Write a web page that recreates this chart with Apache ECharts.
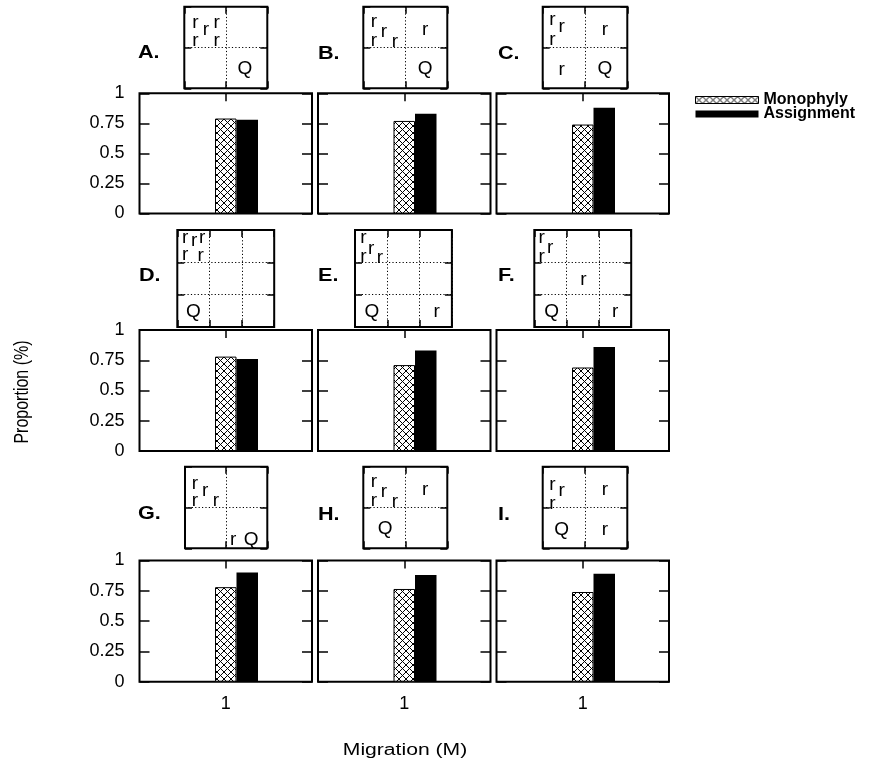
<!DOCTYPE html>
<html><head><meta charset="utf-8">
<script src="https://cdn.jsdelivr.net/npm/echarts@6/dist/echarts.min.js"></script>
<style>html,body{margin:0;padding:0;background:#fff}#c{width:890px;height:771px}</style>
</head><body><div id="c"></div>
<script>
// ---------------- data ----------------
const panelNames = ['A.', 'B.', 'C.', 'D.', 'E.', 'F.', 'G.', 'H.', 'I.'];
const categories = ['1'];
const seriesNames = ['Monophyly', 'Assignment'];
const monophyly  = [0.79, 0.77, 0.74, 0.78, 0.71, 0.69, 0.78, 0.765, 0.74];
const assignment = [0.78, 0.83, 0.88, 0.76, 0.83, 0.86, 0.90, 0.88, 0.89];
const yTickMin = 0, yTickMax = 1, yTickStep = 0.25;
const xTitle = 'Migration (M)';
const yTitle = 'Proportion (%)';
// inset diagrams: grid size (cells per side) and letters [x, y, label] in cell units
const insetCells = [2, 2, 2, 3, 3, 3, 2, 2, 2];
const insetA = [[0.27,1.61,'r'],[0.52,1.43,'r'],[0.78,1.61,'r'],[0.27,1.17,'r'],[0.78,1.17,'r'],[1.46,0.47,'Q']];
const insetB = [[0.25,1.63,'r'],[0.25,1.17,'r'],[0.49,1.39,'r'],[0.75,1.14,'r'],[1.47,1.43,'r'],[1.47,0.49,'Q']];
const insetC = [[0.23,1.67,'r'],[0.45,1.51,'r'],[0.23,1.20,'r'],[1.47,1.43,'r'],[0.45,0.45,'r'],[1.47,0.47,'Q']];
const insetD = [[0.24,2.75,'r'],[0.52,2.66,'r'],[0.77,2.75,'r'],[0.24,2.22,'r'],[0.72,2.19,'r'],[0.50,0.47,'Q']];
const insetE = [[0.26,2.75,'r'],[0.26,2.18,'r'],[0.50,2.41,'r'],[0.77,2.13,'r'],[0.52,0.46,'Q'],[2.53,0.46,'r']];
const insetF = [[0.23,2.75,'r'],[0.49,2.46,'r'],[0.23,2.18,'r'],[1.52,1.46,'r'],[0.54,0.46,'Q'],[2.50,0.46,'r']];
const insetG = [[0.24,1.59,'r'],[0.24,1.17,'r'],[0.49,1.41,'r'],[0.75,1.17,'r'],[1.17,0.22,'r'],[1.61,0.22,'Q']];
const insetH = [[0.25,1.63,'r'],[0.25,1.17,'r'],[0.49,1.39,'r'],[0.75,1.14,'r'],[1.47,1.43,'r'],[0.52,0.49,'Q']];
const insetI = [[0.23,1.55,'r'],[0.45,1.41,'r'],[0.23,1.10,'r'],[1.47,1.43,'r'],[0.45,0.45,'Q'],[1.47,0.45,'r']];
const insets = [insetA, insetB, insetC, insetD, insetE, insetF, insetG, insetH, insetI];

// ---------------- layout ----------------
const FONT = "'Liberation Sans', Arial, sans-serif";
const cols = [[139.5, 172.5], [318, 172.5], [496.5, 172.5]];
const rows = [[93.3, 120.2], [330, 121], [560.5, 121.2]];
const insetBoxes = [
  [184.3, 6.7, 83, 81.6], [363.3, 6.7, 84, 81.6], [542.7, 6.7, 84.6, 81.6],
  [177.3, 230, 96.9, 97], [355, 230, 96.9, 97], [534.3, 230, 96.9, 97],
  [185, 466.7, 82.3, 81.6], [363.3, 466.7, 84, 81.6], [542.7, 466.7, 84.6, 81.6]
];
const letterPos = [[138,53],[318,54],[498,54],[139,276],[318,276],[498,276],[138,514],[318,515],[498,515]];

function makeHatch() {
  const s = 7, cv = document.createElement('canvas');
  cv.width = s; cv.height = s;
  const ctx = cv.getContext('2d');
  ctx.fillStyle = '#fff'; ctx.fillRect(0, 0, s, s);
  ctx.strokeStyle = '#000'; ctx.lineWidth = 1;
  ctx.beginPath();
  ctx.moveTo(0, 0); ctx.lineTo(s, s);
  ctx.moveTo(s, 0); ctx.lineTo(0, s);
  ctx.stroke();
  return cv;
}
const hatch = { image: makeHatch(), repeat: 'repeat' };

const grid = [], xAxis = [], yAxis = [], series = [], graphic = [];
const tickStyle = { color: '#000', width: 1.5 };
const noLine = { show: false, onZero: false };

for (let i = 0; i < 9; i++) {
  const r = Math.floor(i / 3), c = i % 3;
  // main panel
  const g = grid.length;
  grid.push({ left: cols[c][0], top: rows[r][0], width: cols[c][1], height: rows[r][1],
    show: true, borderColor: '#000', borderWidth: 2, backgroundColor: 'rgba(0,0,0,0)' });
  const xb = xAxis.length;
  xAxis.push({ gridIndex: g, type: 'category', data: categories, position: 'bottom',
    axisLine: noLine, axisTick: { show: false },
    axisLabel: { show: r === 2, margin: 13, fontSize: 18, color: '#000', fontFamily: FONT } });
  xAxis.push({ gridIndex: g, type: 'category', data: categories, position: 'top',
    axisLine: noLine,
    axisTick: { show: true, inside: true, length: 8, alignWithLabel: true, lineStyle: tickStyle },
    axisLabel: { show: false } });
  const yl = yAxis.length;
  const yBase = { gridIndex: g, type: 'value', min: yTickMin, max: yTickMax, interval: yTickStep,
    axisLine: noLine, splitLine: { show: false },
    axisTick: { show: true, inside: true, length: 10, lineStyle: tickStyle } };
  yAxis.push(Object.assign({}, yBase, { position: 'left',
    axisLabel: { show: c === 0, margin: 15, fontSize: 18, color: '#000', fontFamily: FONT } }));
  yAxis.push(Object.assign({}, yBase, { position: 'right', axisLabel: { show: false } }));
  const common = { type: 'bar', xAxisIndex: xb, yAxisIndex: yl, barWidth: 21.5, barGap: '0%', silent: true };
  series.push(Object.assign({}, common, { name: '_pad', data: [null] }));
  series.push(Object.assign({}, common, { name: seriesNames[0], data: [monophyly[i]],
    itemStyle: { color: hatch, borderColor: '#000', borderWidth: 1 } }));
  series.push(Object.assign({}, common, { name: seriesNames[1], data: [assignment[i]],
    itemStyle: { color: '#000' } }));

  // inset
  const b = insetBoxes[i], n = insetCells[i];
  const gi = grid.length;
  grid.push({ left: b[0], top: b[1], width: b[2], height: b[3],
    show: true, borderColor: '#000', borderWidth: 2, backgroundColor: '#fff' });
  const ix = xAxis.length, iy = yAxis.length;
  const inBase = { gridIndex: gi, type: 'value', min: 0, max: n, interval: 1,
    axisLine: noLine, axisLabel: { show: false },
    axisTick: { show: true, inside: true, length: 7, lineStyle: tickStyle } };
  const dotted = { show: true, lineStyle: { type: [1.2, 2.2], color: '#000', width: 1 } };
  xAxis.push(Object.assign({}, inBase, { position: 'bottom', splitLine: dotted }));
  xAxis.push(Object.assign({}, inBase, { position: 'top', splitLine: { show: false } }));
  yAxis.push(Object.assign({}, inBase, { position: 'left', splitLine: dotted }));
  yAxis.push(Object.assign({}, inBase, { position: 'right', splitLine: { show: false } }));
  series.push({ type: 'scatter', name: '_inset' + i, xAxisIndex: ix, yAxisIndex: iy,
    data: insets[i], symbolSize: 1, silent: true,
    itemStyle: { color: 'rgba(255,255,255,0)', opacity: 1 },
    label: { show: true, position: 'inside', formatter: p => p.data[2],
      fontSize: 19, color: '#000', opacity: 1, textBorderWidth: 0, fontFamily: FONT } });

  graphic.push({ type: 'text', x: letterPos[i][0], y: letterPos[i][1], scaleX: 1.2,
    style: { text: panelNames[i], font: 'bold 18px ' + FONT, fill: '#000',
      textAlign: 'left', textVerticalAlign: 'middle' } });
}

graphic.push({ type: 'text', x: 405, y: 751, scaleX: 1.32,
  style: { text: xTitle, font: '16px ' + FONT, fill: '#000', textAlign: 'center', textVerticalAlign: 'middle' } });
graphic.push({ type: 'text', x: 22, y: 392, rotation: Math.PI / 2, scaleY: 1.3,
  style: { text: yTitle, font: '16px ' + FONT, fill: '#000', textAlign: 'center', textVerticalAlign: 'middle' } });

const chart = echarts.init(document.getElementById('c'), null, { renderer: 'canvas' });
chart.setOption({
  animation: false,
  backgroundColor: '#fff',
  grid, xAxis, yAxis, series, graphic,
  legend: {
    orient: 'vertical', left: 695, top: 92, padding: 0, itemGap: -2,
    itemWidth: 63, itemHeight: 7, icon: 'rect', selectedMode: false,
    textStyle: { fontSize: 16, fontWeight: 'bold', lineHeight: 14, color: '#000', fontFamily: FONT },
    data: [
      { name: seriesNames[0], itemStyle: { color: hatch, borderColor: '#000', borderWidth: 1 } },
      { name: seriesNames[1], itemStyle: { color: '#000' } }
    ]
  }
});
</script>
</body></html>
